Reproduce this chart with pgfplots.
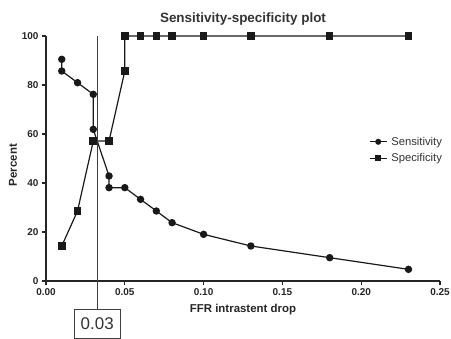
\documentclass[border=0pt]{standalone}
\usepackage{fontspec}
\setmainfont{Liberation Sans}
\usepackage{pgfplots}
\pgfplotsset{compat=1.18}
\begin{document}
\begin{tikzpicture}
\begin{axis}[
  scale only axis, width=394bp, height=245bp,
  xmin=0, xmax=0.25, ymin=0, ymax=100,
  axis lines=left,
  axis line style={-, line width=1.1pt, black!85},
  tick style={line width=1.1pt, black!85},
  major tick length=4bp,
  tick align=outside,
  xtick={0,0.05,0.1,0.15,0.2,0.25},
  ytick={0,20,40,60,80,100},
  /pgf/number format/assume math mode=true,
  xticklabel style={/pgf/number format/.cd, fixed, fixed zerofill, precision=2},
  ticklabel style={font=\bfseries\fontsize{10}{12}\selectfont, text=black!85},
  title={Sensitivity-specificity plot},
  title style={font=\bfseries\fontsize{13.5}{16}\selectfont, text=black!80, yshift=1bp},
  xlabel={FFR intrastent drop},
  ylabel={Percent},
  label style={font=\bfseries\fontsize{11.5}{14}\selectfont, text=black!85},
  xlabel style={yshift=-2bp},
  ylabel style={xshift=-6.5bp, yshift=-2bp},
  legend style={at={(0.812,0.605)}, anchor=north west, draw=none, fill=none,
    font=\fontsize{11.3}{13}\selectfont, text=black!80, row sep=3bp,
    nodes={inner xsep=4bp}},
  legend image post style={mark size=2.4pt},
  legend cell align=left,
  clip=false,
]
\addplot[black!90, line width=1.2pt, mark=*, mark size=3.1pt] coordinates {
(0.01,90.48) (0.01,85.71) (0.02,80.95) (0.03,76.19) (0.03,61.90)
(0.04,42.86) (0.04,38.10) (0.05,38.10) (0.06,33.33) (0.07,28.57)
(0.08,23.81) (0.10,19.05) (0.13,14.29) (0.18,9.52) (0.23,4.76)
};
\addlegendentry{Sensitivity}
\addplot[black!90, line width=1.2pt, mark=square*, mark size=3.2pt] coordinates {
(0.01,14.29) (0.02,28.57) (0.03,57.14) (0.04,57.14) (0.05,85.71)
(0.05,100) (0.06,100) (0.07,100) (0.08,100) (0.10,100)
(0.13,100) (0.18,100) (0.23,100)
};
\addlegendentry{Specificity}
\draw[black!75, line width=0.8pt] (axis cs:0.0325,100) -- (axis cs:0.0325,-11.4);
\node[draw=black!75, line width=0.8pt, minimum width=46bp, minimum height=29bp,
  inner sep=0pt, font=\fontsize{17}{20}\selectfont, text=black!80]
  at (axis cs:0.0325,-17.4) {0.03};
\end{axis}
\pgfresetboundingbox
\path[use as bounding box] (-46bp,-58bp) rectangle (405bp,281bp);
\end{tikzpicture}
\end{document}
